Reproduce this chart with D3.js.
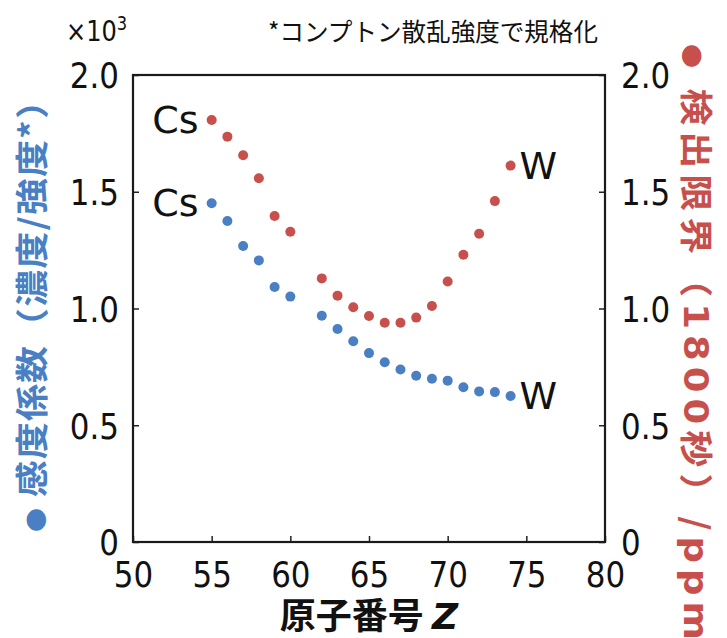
<!DOCTYPE html>
<html>
<head>
<meta charset="utf-8">
<script src="https://cdn.jsdelivr.net/npm/d3@7"></script>
<style>
  html, body { margin: 0; padding: 0; background: #fff; }
  svg { display: block; }
</style>
</head>
<body>
<div id="chart"></div>
<script>
// 原子番号 (Pm=61 は無し)
const atomicNumbers = [55, 56, 57, 58, 59, 60, 62, 63, 64, 65, 66, 67, 68, 69, 70, 71, 72, 73, 74];
// 感度係数 (×10^3)
const sensitivity = [1.451, 1.375, 1.268, 1.206, 1.092, 1.051, 0.969, 0.912, 0.860, 0.809,
                     0.770, 0.739, 0.712, 0.699, 0.691, 0.663, 0.645, 0.642, 0.625];
// 検出限界 (ppm)
const detectionLimit = [1.807, 1.736, 1.656, 1.558, 1.396, 1.329, 1.129, 1.055, 1.005, 0.968,
                        0.939, 0.939, 0.961, 1.011, 1.116, 1.230, 1.320, 1.460, 1.612];
const xTicks = [50, 55, 60, 65, 70, 75, 80];
const yTicks = [0, 0.5, 1.0, 1.5, 2.0];
const endLabels = [
  { text: 'Cs', z: 55, series: 'limit' },
  { text: 'Cs', z: 55, series: 'sens' },
  { text: 'W',  z: 74, series: 'limit' },
  { text: 'W',  z: 74, series: 'sens' }
];

const BLUE = '#4a7fc4';
const RED  = '#c8504c';
const NUM_FONT = "'DejaVu Sans', Verdana, sans-serif";
const JP_FONT  = "'Noto Sans CJK JP', 'Noto Sans', sans-serif";

const W = 727, H = 638;
const svg = d3.select('#chart').append('svg')
  .attr('width', W).attr('height', H)
  .attr('viewBox', `0 0 ${W} ${H}`);

const x = d3.scaleLinear().domain([50, 80]).range([133, 605]);
const y = d3.scaleLinear().domain([0, 2]).range([542, 75]);

const fmtY = d => d === 0 ? '0' : d.toFixed(1);
const SQ = 0.86; // tahoma風に横を詰める

// left axis
svg.append('g')
  .attr('transform', `translate(${x(50)},0)`)
  .call(d3.axisLeft(y).tickValues(yTicks).tickFormat(fmtY).tickSize(-6))
  .call(g => g.select('.domain').remove())
  .call(g => g.selectAll('.tick line').attr('stroke', '#222').attr('stroke-width', 1.5))
  .call(g => g.selectAll('.tick text')
    .attr('x', null).attr('dy', '0.36em')
    .attr('transform', `translate(-14,0) scale(${SQ},1)`)
    .attr('fill', '#111').attr('font-size', 36).attr('font-family', NUM_FONT));

// right axis
svg.append('g')
  .attr('transform', `translate(${x(80)},0)`)
  .call(d3.axisRight(y).tickValues(yTicks).tickFormat(fmtY).tickSize(-6))
  .call(g => g.select('.domain').remove())
  .call(g => g.selectAll('.tick line').attr('stroke', '#222').attr('stroke-width', 1.5))
  .call(g => g.selectAll('.tick text')
    .attr('x', null).attr('dy', '0.36em')
    .attr('transform', `translate(16,0) scale(${SQ},1)`)
    .attr('fill', '#111').attr('font-size', 36).attr('font-family', NUM_FONT));

// bottom axis
svg.append('g')
  .attr('transform', `translate(0,${y(0)})`)
  .call(d3.axisBottom(x).tickValues(xTicks).tickSize(-6))
  .call(g => g.select('.domain').remove())
  .call(g => g.selectAll('.tick line').attr('stroke', '#222').attr('stroke-width', 1.5))
  .call(g => g.selectAll('.tick text')
    .attr('y', null).attr('dy', null)
    .attr('transform', `translate(0,45) scale(${SQ},1)`)
    .attr('fill', '#111').attr('font-size', 36).attr('font-family', NUM_FONT));

// frame
svg.append('rect')
  .attr('x', x(50)).attr('y', y(2))
  .attr('width', x(80) - x(50)).attr('height', y(0) - y(2))
  .attr('fill', 'none').attr('stroke', '#1a1a1a').attr('stroke-width', 2.2);

// points
const rows = atomicNumbers.map((z, i) => ({ z, sens: sensitivity[i], limit: detectionLimit[i] }));

svg.append('g').selectAll('circle')
  .data(rows).enter().append('circle')
  .attr('cx', d => x(d.z)).attr('cy', d => y(d.limit))
  .attr('r', 5).attr('fill', RED);

svg.append('g').selectAll('circle')
  .data(rows).enter().append('circle')
  .attr('cx', d => x(d.z)).attr('cy', d => y(d.sens))
  .attr('r', 5).attr('fill', BLUE);

// Cs / W labels
svg.append('g').selectAll('text')
  .data(endLabels).enter().append('text')
  .attr('x', d => d.z === 55 ? x(d.z) - 13 : x(d.z) + 9)
  .attr('y', d => {
    const r = rows.find(r => r.z === d.z);
    return y(r[d.series]) + 13;
  })
  .attr('text-anchor', d => d.z === 55 ? 'end' : 'start')
  .attr('font-size', 38).attr('font-family', NUM_FONT).attr('fill', '#111')
  .text(d => d.text);

// ×10^3
const mult = svg.append('text')
  .attr('transform', `translate(66,41) scale(${SQ},1)`)
  .attr('font-size', 28).attr('font-family', NUM_FONT).attr('fill', '#111');
mult.append('tspan').text('×10');
mult.append('tspan').attr('font-size', 19).attr('dy', -11).text('3');

// note
svg.append('text')
  .attr('x', 598).attr('y', 41)
  .attr('text-anchor', 'end')
  .attr('font-size', 25).attr('font-family', JP_FONT).attr('fill', '#111')
  .attr('textLength', 330).attr('lengthAdjust', 'spacingAndGlyphs')
  .text('*コンプトン散乱強度で規格化');

// x title
const xt = svg.append('text')
  .attr('x', x(65)).attr('y', 629)
  .attr('text-anchor', 'middle')
  .attr('font-size', 36).attr('font-weight', 'bold')
  .attr('font-family', JP_FONT).attr('fill', '#111');
xt.append('tspan').text('原子番号 ');
xt.append('tspan').attr('font-style', 'italic').attr('font-family', "'DejaVu Sans', sans-serif").text('Z');

// left y title (読み: 下→上)
const lt = svg.append('text')
  .attr('transform', `translate(44,${(82 + 532) / 2}) rotate(-90) scale(1,0.9)`)
  .attr('text-anchor', 'middle')
  .attr('font-size', 37).attr('font-weight', 'bold')
  .attr('font-family', JP_FONT).attr('fill', BLUE)
  .attr('textLength', 450).attr('lengthAdjust', 'spacing');
lt.append('tspan').attr('font-size', 24).text('●');
lt.append('tspan').text(' 感度係数（濃度/強度*）');

// right y title (読み: 上→下)
const rt = svg.append('text')
  .attr('transform', `translate(684,${(44 + 640) / 2}) rotate(90) scale(1,0.9)`)
  .attr('text-anchor', 'middle')
  .attr('font-size', 37).attr('font-weight', 'bold')
  .attr('font-family', JP_FONT).attr('fill', RED)
  .attr('textLength', 596).attr('lengthAdjust', 'spacing');
rt.append('tspan').attr('font-size', 24).text('●');
rt.append('tspan').text(' 検出限界（');
rt.append('tspan').attr('font-family', NUM_FONT).text('1800');
rt.append('tspan').text('秒）/');
rt.append('tspan').attr('font-family', NUM_FONT).text('ppm');
</script>
</body>
</html>
